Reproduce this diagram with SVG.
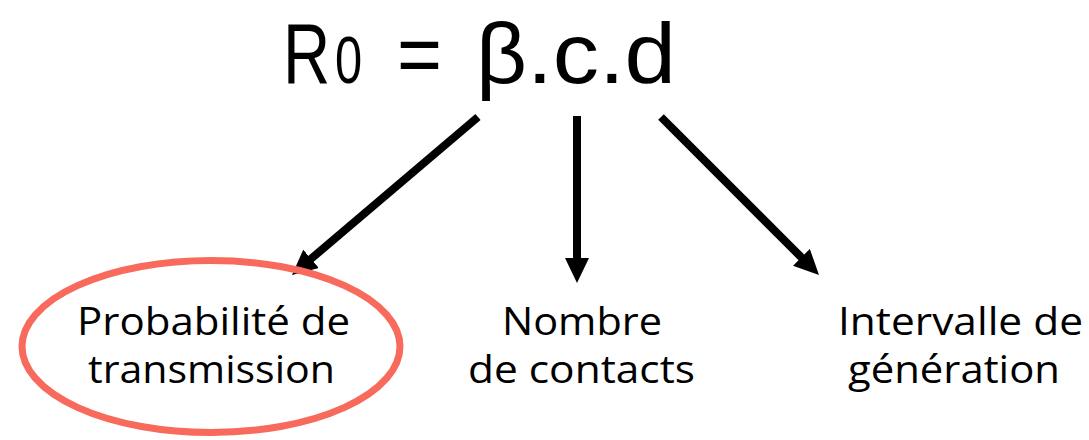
<svg xmlns="http://www.w3.org/2000/svg" width="1089" height="440" viewBox="0 0 1089 440">
  <style>
    .lbl { font-family: "Open Sans", "Noto Sans", sans-serif; font-size: 38px; fill: #000; }
    .title { font-family: "Liberation Sans", Arial, sans-serif; font-size: 86px; fill: #000; }
    .sub { font-size: 66px; }
    .conn { stroke: #000; stroke-width: 8; fill: none; marker-end: url(#ah); }
  </style>
  <defs>
    <marker id="ah" viewBox="0 0 26 24" markerWidth="26" markerHeight="24" markerUnits="userSpaceOnUse" refX="10" refY="12" orient="auto">
      <path d="M0,0 L25,12 L0,24 Z" fill="#000"/>
    </marker>
  </defs>
  <rect width="1089" height="440" fill="#fff"/>

  <g id="formula">
    <text class="title" transform="translate(283,83) scale(0.76,1)">R</text>
    <text class="title sub" transform="translate(335,83) scale(0.74,1)">0</text>
    <text class="title" x="397" y="83" textLength="45" lengthAdjust="spacingAndGlyphs">=</text>
    <text class="title" x="476" y="83" textLength="51" lengthAdjust="spacingAndGlyphs">β</text>
    <text class="title" x="527" y="83" textLength="149" lengthAdjust="spacingAndGlyphs">.c.d</text>
  </g>

  <g id="connectors">
    <line class="conn" x1="478" y1="117" x2="303.4" y2="265.3"/>
    <line class="conn" x1="577" y1="116" x2="577" y2="268"/>
    <line class="conn" x1="661" y1="117" x2="808.4" y2="264.4"/>
  </g>

  <g id="node-transmission">
    <ellipse cx="211" cy="346.5" rx="189" ry="86" fill="none" stroke="#F86A5C" stroke-width="7"/>
    <text class="lbl" x="77" y="335" textLength="273" lengthAdjust="spacingAndGlyphs">Probabilité de</text>
    <text class="lbl" x="88" y="383" textLength="247" lengthAdjust="spacingAndGlyphs">transmission</text>
  </g>

  <g id="node-contacts">
    <text class="lbl" x="502" y="335" textLength="160" lengthAdjust="spacingAndGlyphs">Nombre</text>
    <text class="lbl" x="468" y="383" textLength="227" lengthAdjust="spacingAndGlyphs">de contacts</text>
  </g>

  <g id="node-generation">
    <text class="lbl" x="838" y="335" textLength="245" lengthAdjust="spacingAndGlyphs">Intervalle de</text>
    <text class="lbl" x="848" y="383" textLength="212" lengthAdjust="spacingAndGlyphs">génération</text>
  </g>
</svg>
